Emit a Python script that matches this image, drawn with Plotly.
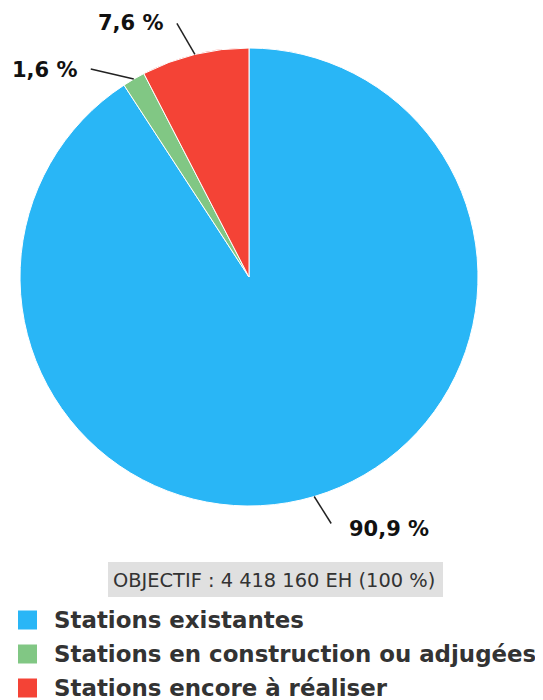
import math
import plotly.graph_objects as go

# ---- data ----
categories = ["Stations existantes", "Stations en construction ou adjugées", "Stations encore à réaliser"]
shares = [90.9, 1.6, 7.6]
colors = ["#29b6f6", "#81c784", "#f44336"]
total_eh = 4418160

# ---- layout constants (page pixels) ----
PAGE_W, PAGE_H = 543, 700
OFF = 8  # default body margin of the html page
W, H = PAGE_W - OFF, PAGE_H - OFF
CX, CY, R = 249, 277, 229
FONT = "DejaVu Sans"
TXT = "#333333"
# leader-line end offsets from slice edge point (px), label side, text gap, text dy
LEADER = [(17, 27, "left", 16, 5), (-43, -10, "right", 11, 1), (-18, -31, "right", 11, 0)]


def px(x):
    return (x - OFF) / W


def py(y):
    return 1 - (y - OFF) / H


def fmt_pct(v):
    return f"{v:.1f}".replace(".", ",") + " %"


def fmt_int(v):
    return f"{v:,}".replace(",", " ")


fig = go.Figure()
fig.add_trace(go.Pie(
    labels=categories,
    values=shares,
    marker=dict(colors=colors, line=dict(color="white", width=1)),
    sort=False,
    direction="clockwise",
    rotation=0,
    textinfo="none",
    hoverinfo="label+percent",
    showlegend=False,
    domain=dict(x=[px(CX - R), px(CX + R)], y=[py(CY + R), py(CY - R)]),
))

shapes = []
annotations = []
tot = sum(shares)
cum = 0.0
for i, v in enumerate(shares):
    mid = (cum + v / 2) / tot * 2 * math.pi
    cum += v
    ex = CX + R * math.sin(mid)
    ey = CY - R * math.cos(mid)
    dx, dy, side, gap, tdy = LEADER[i]
    lx, ly = ex + dx, ey + dy
    shapes.append(dict(type="line", xref="paper", yref="paper",
                       x0=px(ex), y0=py(ey), x1=px(lx), y1=py(ly),
                       line=dict(color="#222222", width=1.5)))
    tx = lx + gap if side == "left" else lx - gap
    annotations.append(dict(x=px(tx), y=py(ly + tdy), xref="paper", yref="paper",
                            text="<b>" + fmt_pct(v) + "</b>", showarrow=False,
                            xanchor=side, yanchor="middle",
                            font=dict(family=FONT, size=21, color="#111111")))

# objective box
shapes.append(dict(type="rect", xref="paper", yref="paper",
                   x0=px(108), x1=px(443), y0=py(597), y1=py(562),
                   fillcolor="#e0e0e0", line=dict(width=0), layer="below"))
annotations.append(dict(x=px(274), y=py(580), xref="paper", yref="paper",
                        text=f"OBJECTIF : {fmt_int(total_eh)} EH (100 %)",
                        showarrow=False, xanchor="center", yanchor="middle",
                        font=dict(family=FONT, size=19.4, color=TXT)))

# manual legend
for i, (lab, col) in enumerate(zip(categories, colors)):
    yc = 620 + i * 34
    shapes.append(dict(type="rect", xref="paper", yref="paper",
                       x0=px(18), x1=px(37), y0=py(yc + 9.5), y1=py(yc - 9.5),
                       fillcolor=col, line=dict(width=0)))
    annotations.append(dict(x=px(52), y=py(yc), xref="paper", yref="paper",
                            text="<b>" + lab + "</b>", showarrow=False,
                            xanchor="left", yanchor="middle",
                            font=dict(family=FONT, size=22.9, color=TXT)))

fig.update_layout(
    width=W, height=H,
    margin=dict(l=0, r=0, t=0, b=0),
    paper_bgcolor="white",
    plot_bgcolor="white",
    shapes=shapes,
    annotations=annotations,
    font=dict(family=FONT, color=TXT),
)

fig.write_html("out.html")
